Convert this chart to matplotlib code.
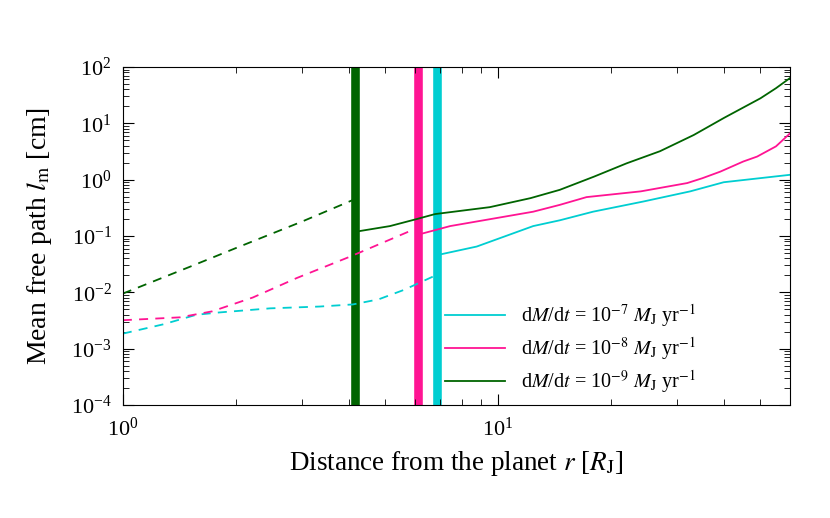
import matplotlib
matplotlib.use('Agg')
import matplotlib.pyplot as plt
from matplotlib import rcParams
from matplotlib.ticker import LogLocator, NullFormatter

rcParams['font.family'] = 'Liberation Serif'
rcParams['mathtext.fontset'] = 'stix'

# dM/dt = 1e-7 (cyan)
r7_in = [1.0, 1.28, 1.57, 1.81, 2.47, 3.35, 4.1, 4.8, 5.6, 6.7]
l7_in = [0.00185, 0.0027, 0.0040, 0.0044, 0.0052, 0.0056, 0.0061, 0.0075, 0.011, 0.019]
r7_out = [6.9, 8.77, 12.4, 14.6, 17.9, 24.4, 32.5, 39.9, 60.0]
l7_out = [0.046, 0.065, 0.15, 0.19, 0.27, 0.41, 0.62, 0.90, 1.22]

# dM/dt = 1e-8 (pink)
r8_in = [1.0, 1.42, 1.73, 2.22, 2.91, 4.03, 5.93]
l8_in = [0.0032, 0.0036, 0.0046, 0.0081, 0.018, 0.043, 0.129]
r8_out = [6.1, 7.45, 12.4, 14.6, 17.2, 24.0, 31.9, 35.0, 39.1, 45.0, 49.0, 55.0, 60.0]
l8_out = [0.105, 0.15, 0.27, 0.357, 0.49, 0.62, 0.87, 1.06, 1.39, 2.1, 2.57, 3.9, 6.67]

# dM/dt = 1e-9 (green)
r9_in = [1.0, 1.5, 2.0, 3.0, 4.15]
l9_in = [0.0095, 0.028, 0.061, 0.18, 0.45]
r9_out = [4.2, 5.15, 6.07, 6.79, 9.5, 12.2, 14.6, 18.0, 22.0, 27.0, 33.2, 40.0, 50.0, 55.0, 60.0]
l9_out = [0.12, 0.15, 0.20, 0.245, 0.325, 0.47, 0.66, 1.13, 1.95, 3.2, 6.2, 12.5, 27.8, 42.0, 64.0]

# boundary radii (thick vertical bars)
r_bound = [4.16, 6.10, 6.87]

c7 = '#00CED1'
c8 = '#FF1493'
c9 = '#006400'

fig = plt.figure(figsize=(8.3, 5.18), dpi=100)
ax = fig.add_axes([0.148, 0.2181, 0.804, 0.6526])

ax.axvline(r_bound[0], color=c9, lw=6.2, zorder=1)
ax.axvline(r_bound[1], color=c8, lw=6.2, zorder=1)
ax.axvline(r_bound[2], color=c7, lw=6.2, zorder=1)

ax.plot(r7_in, l7_in, color=c7, lw=1.3, ls=(0, (5, 4)))
ax.plot(r8_in, l8_in, color=c8, lw=1.3, ls=(0, (5, 4)))
ax.plot(r9_in, l9_in, color=c9, lw=1.3, ls=(0, (5, 4)))

ax.plot(r7_out, l7_out, color=c7, lw=1.3,
        label=r'd$M$/d$t$ = 10$^{-7}$ $M_{\rm J}$ yr$^{-1}$')
ax.plot(r8_out, l8_out, color=c8, lw=1.3,
        label=r'd$M$/d$t$ = 10$^{-8}$ $M_{\rm J}$ yr$^{-1}$')
ax.plot(r9_out, l9_out, color=c9, lw=1.3,
        label=r'd$M$/d$t$ = 10$^{-9}$ $M_{\rm J}$ yr$^{-1}$')

ax.set_xscale('log')
ax.set_yscale('log')
ax.set_xlim(1, 60)
ax.set_ylim(1e-4, 1e2)

ax.yaxis.set_major_locator(LogLocator(base=10, numticks=10))
ax.yaxis.set_minor_locator(LogLocator(base=10, subs=range(2, 10), numticks=20))
ax.yaxis.set_minor_formatter(NullFormatter())
ax.xaxis.set_minor_formatter(NullFormatter())

ax.tick_params(which='both', direction='in', top=True, right=True, labelsize=16)
ax.tick_params(which='major', length=8, width=0.8)
ax.tick_params(which='minor', length=4, width=0.6)
ax.tick_params(axis='x', pad=9)
ax.tick_params(axis='y', pad=8)

ax.set_xlabel(r'Distance from the planet $r$ [$R_{\rm J}$]', fontsize=19.5, labelpad=6)
ax.set_ylabel(r'Mean free path $l_{\rm m}$ [cm]', fontsize=20, labelpad=12)

ax.legend(loc='lower left', bbox_to_anchor=(0.455, -0.025), frameon=False,
          fontsize=14.5, handlelength=3.0, handletextpad=0.8, labelspacing=0.3)

fig.savefig('out.png', dpi=100)
